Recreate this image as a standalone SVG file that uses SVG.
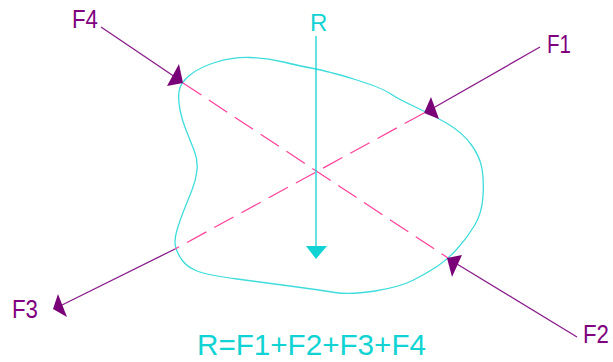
<svg xmlns="http://www.w3.org/2000/svg" width="613" height="362" viewBox="0 0 613 362">
<style>
.lbl{font-family:"Liberation Sans",Arial,sans-serif;font-size:25px;fill:#800080}
.cy{font-family:"Liberation Sans",Arial,sans-serif;fill:#11d3d3}
.force{stroke:#8a1a8a;stroke-width:1.3;fill:none}
.dash{stroke:#ff3f9a;stroke-width:1.2;fill:none;stroke-dasharray:22 9}
.head{fill:#7a0077}
</style>
<rect width="613" height="362" fill="#ffffff"/>
<g id="body">
<path d="M179,91.5 Q178,100 180,110 Q182,120 186,130 Q190,140 194,150 Q198,160 197,170 Q196,180 192,190 Q188,200 184,210 Q180,220 177,230 Q174,240 175.5,246.5 Q177,253 182,260 Q187,267 197,271 Q207,275 237,279 Q267,283 293.5,286.5 Q320,290 335,292.5 Q350,295 375,291 Q400,287 413.5,280 Q427,273 437,266.5 Q447,260 457,249 Q467,238 474.5,225.5 Q482,213 483,196.5 Q484,180 482,168.5 Q480,157 471.5,145 Q463,133 448,124 Q433,115 416.5,107.5 Q400,100 390,93.5 Q380,87 353.5,79 Q327,71 313.5,68.5 Q300,66 283.5,62 Q267,58 250,57.5 Q233,57 216.5,62 Q200,67 190,75 Q180,83 179,91.5 Z" fill="none" stroke="#3fdcdc" stroke-width="1.3"/>
</g>
<g id="connectors">
<line class="dash" x1="183" y1="83" x2="448" y2="258"/>
<line class="dash" x1="424" y1="113" x2="175" y2="249"/>
</g>
<g id="F4">
<line class="force" x1="101" y1="27" x2="178" y2="79"/>
<polygon class="head" points="179,64 167,86 183,83"/>
<text class="lbl" x="72" y="28" textLength="26" lengthAdjust="spacingAndGlyphs">F4</text>
</g>
<g id="F1">
<line class="force" x1="540" y1="47" x2="428" y2="111"/>
<polygon class="head" points="431,97 439,119 424,113"/>
<text class="lbl" x="547" y="53" textLength="24" lengthAdjust="spacingAndGlyphs">F1</text>
</g>
<g id="F3">
<line class="force" x1="175" y1="249" x2="60" y2="306"/>
<polygon class="head" points="58,294 67,317 53,309"/>
<text class="lbl" x="12" y="318" textLength="26" lengthAdjust="spacingAndGlyphs">F3</text>
</g>
<g id="F2">
<line class="force" x1="577" y1="337" x2="452" y2="261"/>
<polygon class="head" points="462,255 452,277 447,258"/>
<text class="lbl" x="583" y="343" textLength="26" lengthAdjust="spacingAndGlyphs">F2</text>
</g>
<g id="R">
<line x1="316" y1="36" x2="316" y2="247" stroke="#11d3d3" stroke-width="1.3"/>
<polygon points="306,246 327,246 316,259" fill="#11d3d3"/>
<text class="cy" x="310" y="31" font-size="24">R</text>
</g>
<g id="equation">
<text class="cy" x="197" y="355" font-size="29" textLength="229" lengthAdjust="spacingAndGlyphs">R=F1+F2+F3+F4</text>
</g>
</svg>
